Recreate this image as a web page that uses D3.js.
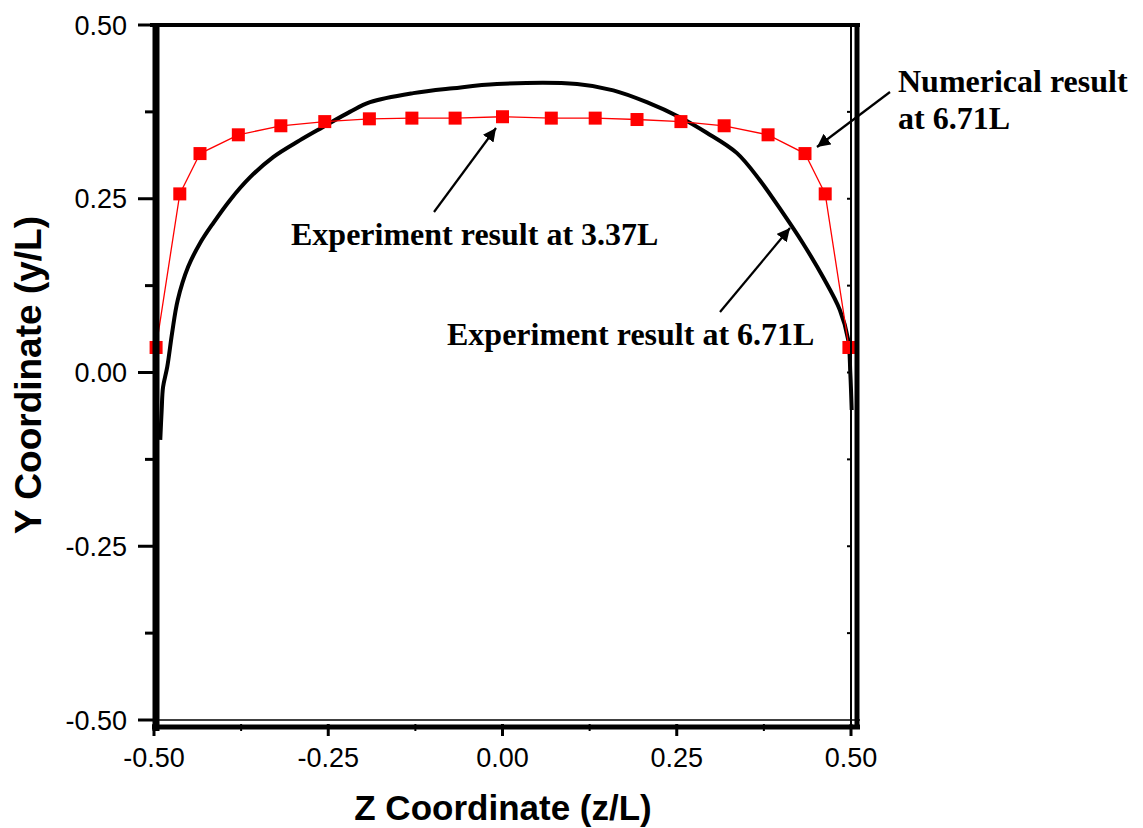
<!DOCTYPE html>
<html>
<head>
<meta charset="utf-8">
<script src="https://cdn.jsdelivr.net/npm/d3@7"></script>
<style>
  body { margin: 0; background: #fff; }
  svg { display: block; }
  .tick-label { font-family: Arial, "Liberation Sans", sans-serif; font-size: 27px; fill: #000; }
  .axis-title { font-family: Arial, "Liberation Sans", sans-serif; font-size: 35px; font-weight: bold; fill: #000; }
  .note { font-family: "Times New Roman", "Liberation Serif", serif; font-size: 32px; font-weight: bold; fill: #000; }
</style>
</head>
<body>
<svg width="1143" height="828"></svg>
<script>
// numerical result at 6.71L (red squares)
const numZ = [-0.497, -0.463, -0.434, -0.379, -0.318, -0.255, -0.191, -0.130, -0.068, 0.0,
              0.070, 0.133, 0.193, 0.256, 0.318, 0.381, 0.434, 0.463, 0.497];
const numY = [0.036, 0.257, 0.315, 0.342, 0.355, 0.361, 0.365, 0.366, 0.366, 0.368,
              0.366, 0.366, 0.364, 0.361, 0.355, 0.342, 0.315, 0.257, 0.036];

// experiment result at 6.71L (black trace)
const expZ = [-0.491, -0.489, -0.487, -0.481, -0.474, -0.466, -0.451, -0.434, -0.415, -0.391,
              -0.362, -0.329, -0.291, -0.258, -0.219, -0.190, -0.128, -0.071, -0.008, 0.107,
              0.159, 0.207, 0.255, 0.293, 0.336, 0.369, 0.402, 0.431, 0.460, 0.484,
              0.496, 0.499, 0.501];
const expY = [-0.097, -0.054, -0.021, 0.008, 0.057, 0.104, 0.152, 0.186, 0.215, 0.248,
              0.281, 0.310, 0.334, 0.353, 0.375, 0.389, 0.402, 0.409, 0.415, 0.415,
              0.406, 0.389, 0.367, 0.345, 0.316, 0.277, 0.230, 0.186, 0.137, 0.090,
              0.047, -0.001, -0.054];

const majorTicks = [-0.5, -0.25, 0, 0.25, 0.5];
const minorTicks = [-0.375, -0.125, 0.125, 0.375];

const svg = d3.select('svg');

const x = d3.scaleLinear().domain([-0.5, 0.5]).range([154, 851]);
const y = d3.scaleLinear().domain([-0.5, 0.5]).range([720, 25]);

// experiment curve
const expData = expZ.map((z, i) => [z, expY[i]]);
svg.append('path')
    .datum(expData)
    .attr('fill', 'none')
    .attr('stroke', '#000')
    .attr('stroke-width', 4)
    .attr('stroke-linejoin', 'round')
    .attr('d', d3.line().x(d => x(d[0])).y(d => y(d[1])).curve(d3.curveCatmullRom));

// numerical result
const numData = numZ.map((z, i) => [z, numY[i]]);
svg.append('path')
    .datum(numData)
    .attr('fill', 'none')
    .attr('stroke', '#ff0000')
    .attr('stroke-width', 1.3)
    .attr('d', d3.line().x(d => x(d[0])).y(d => y(d[1])));

svg.append('g')
    .selectAll('rect')
    .data(numData)
    .enter().append('rect')
    .attr('x', d => x(d[0]) - 6.5)
    .attr('y', d => y(d[1]) - 6.5)
    .attr('width', 13)
    .attr('height', 13)
    .attr('fill', '#ff0000');

// frame
const frame = svg.append('g');
frame.append('line').attr('x1', 150).attr('x2', 860).attr('y1', 25).attr('y2', 25)
    .attr('stroke', '#000').attr('stroke-width', 4);
frame.append('line').attr('x1', 156).attr('x2', 156).attr('y1', 23).attr('y2', 731)
    .attr('stroke', '#000').attr('stroke-width', 7);
frame.append('line').attr('x1', 152).attr('x2', 860).attr('y1', 720).attr('y2', 720)
    .attr('stroke', '#000').attr('stroke-width', 1.5);
frame.append('line').attr('x1', 152).attr('x2', 860).attr('y1', 727).attr('y2', 727)
    .attr('stroke', '#000').attr('stroke-width', 5);
frame.append('line').attr('x1', 851).attr('x2', 851).attr('y1', 25).attr('y2', 729)
    .attr('stroke', '#000').attr('stroke-width', 2);
frame.append('line').attr('x1', 857).attr('x2', 857).attr('y1', 23).attr('y2', 729)
    .attr('stroke', '#000').attr('stroke-width', 5);

// y ticks
const fmt = d => d3.format('.2f')(d).replace('\u2212', '-');
frame.selectAll('.ymaj').data(majorTicks).enter().append('line')
    .attr('x1', 138).attr('x2', 153).attr('y1', d => y(d)).attr('y2', d => y(d))
    .attr('stroke', '#000').attr('stroke-width', 3);
frame.selectAll('.ymin').data(minorTicks).enter().append('line')
    .attr('x1', 145).attr('x2', 153).attr('y1', d => y(d)).attr('y2', d => y(d))
    .attr('stroke', '#000').attr('stroke-width', 3);
frame.selectAll('.yrmin').data(minorTicks.concat([0.25, 0, -0.25])).enter().append('line')
    .attr('x1', 847).attr('x2', 851).attr('y1', d => y(d)).attr('y2', d => y(d))
    .attr('stroke', '#000').attr('stroke-width', 2);
svg.selectAll('.ylab').data(majorTicks).enter().append('text')
    .attr('class', 'tick-label')
    .attr('x', 127).attr('y', d => y(d) + 9.5)
    .attr('text-anchor', 'end')
    .text(d => fmt(d));

// x ticks
frame.selectAll('.xmaj').data(majorTicks).enter().append('line')
    .attr('x1', d => x(d)).attr('x2', d => x(d)).attr('y1', 724).attr('y2', 736)
    .attr('stroke', '#000').attr('stroke-width', 3);
frame.selectAll('.xmin').data(minorTicks).enter().append('line')
    .attr('x1', d => x(d)).attr('x2', d => x(d)).attr('y1', 724).attr('y2', 731)
    .attr('stroke', '#000').attr('stroke-width', 2);
svg.selectAll('.xlab').data(majorTicks).enter().append('text')
    .attr('class', 'tick-label')
    .attr('x', d => x(d)).attr('y', 767)
    .attr('text-anchor', 'middle')
    .text(d => fmt(d));

// axis titles
svg.append('text')
    .attr('class', 'axis-title')
    .attr('x', 503).attr('y', 820)
    .attr('text-anchor', 'middle')
    .text('Z Coordinate (z/L)');
svg.append('text')
    .attr('class', 'axis-title')
    .style('font-size', '37px')
    .attr('transform', 'translate(41,375) rotate(-90)')
    .attr('text-anchor', 'middle')
    .text('Y Coordinate (y/L)');

// annotations
svg.append('defs').append('marker')
    .attr('id', 'arrow')
    .attr('viewBox', '0 0 10 10')
    .attr('refX', 10).attr('refY', 5)
    .attr('markerWidth', 6).attr('markerHeight', 6)
    .attr('markerUnits', 'strokeWidth')
    .attr('orient', 'auto')
    .append('path').attr('d', 'M0,0 L10,5 L0,10 Z').attr('fill', '#000');

const arrows = [
    [890, 92, 817, 147],
    [434, 212, 496, 128],
    [720, 312, 790, 228]
];
svg.selectAll('.arrow').data(arrows).enter().append('line')
    .attr('x1', d => d[0]).attr('y1', d => d[1])
    .attr('x2', d => d[2]).attr('y2', d => d[3])
    .attr('stroke', '#000').attr('stroke-width', 2.2)
    .attr('marker-end', 'url(#arrow)');

svg.append('text').attr('class', 'note').attr('x', 898).attr('y', 92).text('Numerical result');
svg.append('text').attr('class', 'note').attr('x', 898).attr('y', 129).text('at 6.71L');
svg.append('text').attr('class', 'note').attr('x', 291).attr('y', 245).text('Experiment result at 3.37L');
svg.append('text').attr('class', 'note').attr('x', 447).attr('y', 345).text('Experiment result at 6.71L');
</script>
</body>
</html>
